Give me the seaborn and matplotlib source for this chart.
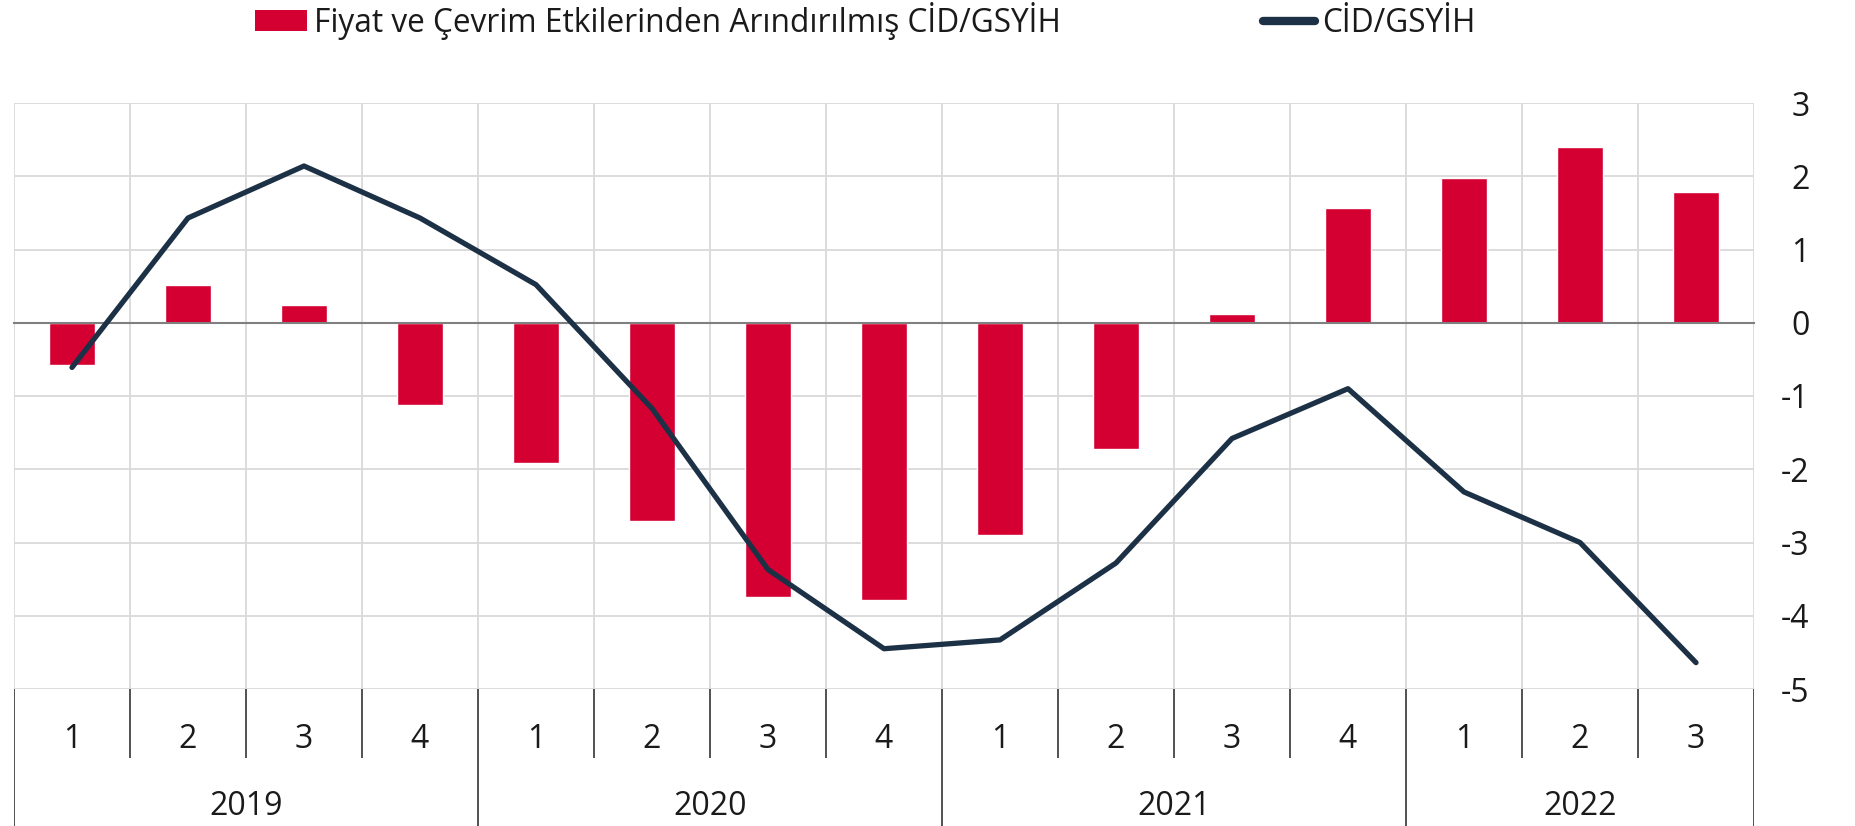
import numpy as np
import pandas as pd
import matplotlib
matplotlib.use("Agg")
import matplotlib.pyplot as plt
from matplotlib.patches import Patch
from matplotlib.lines import Line2D
import seaborn as sns

years = ["2019", "2020", "2021", "2022"]
quarters = ["1", "2", "3", "4", "1", "2", "3", "4", "1", "2", "3", "4", "1", "2", "3"]
year_spans = [4, 4, 4, 3]
bar_values = [-0.58, 0.52, 0.24, -1.12, -1.91, -2.70, -3.74, -3.79, -2.90, -1.73, 0.12, 1.56, 1.98, 2.40, 1.79]
line_values = [-0.61, 1.43, 2.14, 1.43, 0.52, -1.17, -3.37, -4.45, -4.33, -3.28, -1.58, -0.90, -2.31, -3.00, -4.64]
bar_label = "Fiyat ve Çevrim Etkilerinden Arındırılmış CİD/GSYİH"
line_label = "CİD/GSYİH"
y_ticks = [3, 2, 1, 0, -1, -2, -3, -4, -5]
y_ticklabels = ["3", "2", "1", "0", "-1", "-2", "-3", "-4", "-5"]

RED = "#d50032"
NAVY = "#1d3146"
GRID = "#d9d9d9"
FS = 23
LEG_FS = 22.8

sns.set_theme(style="white")
plt.rcParams["font.family"] = ["Open Sans", "DejaVu Sans"]

year_of = []
for y, s in zip(years, year_spans):
    year_of += [y] * s
cats = [f"{y}-{q}" for y, q in zip(year_of, quarters)]
df = pd.DataFrame({"cat": cats, "bar": bar_values, "line": line_values})
n = len(cats)

W, H = 1856, 826
fig = plt.figure(figsize=(W / 100, H / 100), dpi=100)
left = 14 / W
width = 1740 / W
bottom = 1 - 689 / H
top = 1 - 103 / H
ax = fig.add_axes([left, bottom, width, top - bottom])

sns.barplot(data=df, x="cat", y="bar", order=cats, color=RED, saturation=1,
            width=0.40, ax=ax, zorder=2)
sns.lineplot(x=np.arange(n), y=df["line"].values, ax=ax, color=NAVY, linewidth=3.8,
             sort=False, zorder=4, solid_capstyle="round", solid_joinstyle="round")

ax.set_xlim(-0.5, n - 0.5)
ax.set_ylim(-5, 3)
ax.set_xlabel("")
ax.set_ylabel("")
bounds = np.arange(n + 1) - 0.5
ax.set_xticks(bounds)
ax.set_xticklabels([])
ax.tick_params(axis="x", direction="out", length=5, width=1.2, color="#222222", pad=0)
ax.set_yticks(y_ticks)
ax.set_yticklabels(y_ticklabels)
ax.yaxis.tick_right()
ax.tick_params(axis="y", length=0, pad=40, labelsize=FS, labelcolor="#1a1a1a")
for lab in ax.get_yticklabels():
    lab.set_horizontalalignment("right")
ax.set_axisbelow(True)
ax.grid(True, axis="both", color=GRID, linewidth=1.3)
for s in ["top", "left", "right"]:
    ax.spines[s].set_visible(False)
ax.spines["bottom"].set_position(("data", 0))
ax.spines["bottom"].set_color("#7f7f7f")
ax.spines["bottom"].set_linewidth(1.5)
ax.spines["bottom"].set_zorder(3)

# category table below the plot
ax2 = fig.add_axes([left, 0, width, bottom])
ax2.set_xlim(-0.5, n - 0.5)
ax2.set_ylim(0, 2)
ax2.axis("off")
ax2.vlines(bounds, 1.0, 2.0, color="#222222", linewidth=1.1)
ybounds = np.concatenate([[-0.5], np.cumsum(year_spans) - 0.5])
ax2.vlines(ybounds, 0.0, 1.0, color="#222222", linewidth=1.1)
for i, q in enumerate(quarters):
    ax2.text(i, 1.26, q, ha="center", va="center", fontsize=FS, color="#1a1a1a")
start = 0
for y, s in zip(years, year_spans):
    ax2.text(start + (s - 1) / 2, 0.28, y, ha="center", va="center", fontsize=FS, color="#1a1a1a")
    start += s

handles = [Patch(facecolor=RED, edgecolor="none", label=bar_label),
           Line2D([0], [0], color=NAVY, linewidth=6, solid_capstyle="round", label=line_label)]
fig.legend(handles=handles, loc="center left", bbox_to_anchor=(255 / W, 1 - 21 / H),
           ncol=2, frameon=False, fontsize=LEG_FS, handlelength=1.65, handleheight=0.65,
           handletextpad=0.2, columnspacing=6.4, borderpad=0, borderaxespad=0,
           labelcolor="#1a1a1a")

fig.savefig("out.png", dpi=100)
